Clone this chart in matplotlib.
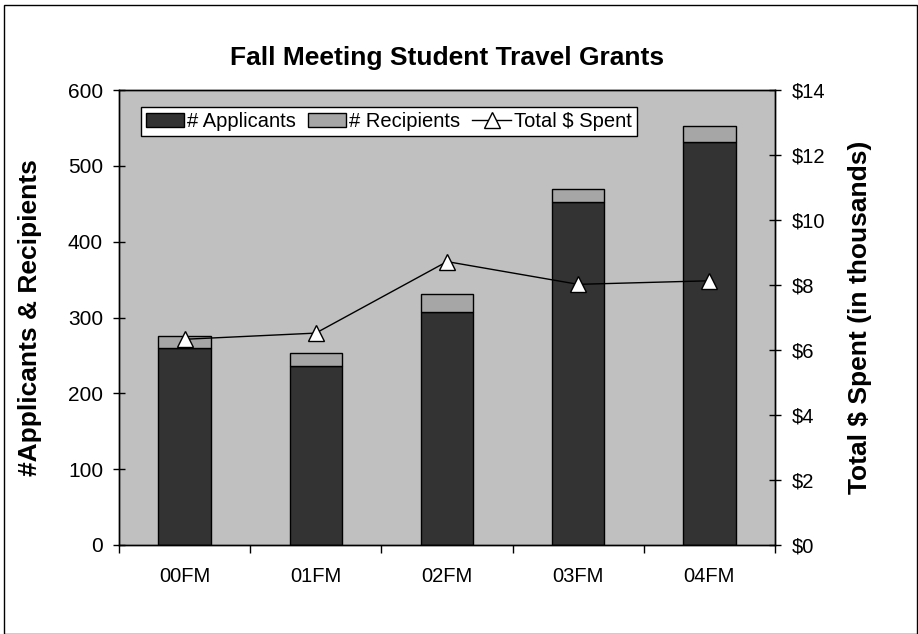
import matplotlib.pyplot as plt
from matplotlib.patches import Rectangle

plt.rcParams['font.family'] = ['Liberation Sans', 'DejaVu Sans']

# data
meetings = ['00FM', '01FM', '02FM', '03FM', '04FM']
applicants = [260, 236, 307, 452, 531]
recipients = [15, 17, 24, 18, 21]
spent = [6.33, 6.52, 8.72, 8.02, 8.13]  # thousands of $

fig = plt.figure(figsize=(9.18, 6.34), dpi=100)
ax = fig.add_axes([119/918, 89/634, 656/918, 455/634])
ax.set_facecolor('#c0c0c0')

x = range(len(meetings))
ax.bar(x, applicants, width=0.4, color='#333333', edgecolor='black', linewidth=1,
       label='# Applicants', zorder=2)
ax.bar(x, recipients, width=0.4, bottom=applicants, color='#a6a6a6', edgecolor='black',
       linewidth=1, label='# Recipients', zorder=2)

ax.set_xlim(-0.5, len(meetings) - 0.5)
ax.set_ylim(0, 600)
ax.set_yticks(range(0, 601, 100))
# ticks between categories, labels at the centres
ax.set_xticks([i - 0.5 for i in range(len(meetings) + 1)])
ax.set_xticklabels([])
ax.set_xticks(list(x), minor=True)
ax.set_xticklabels(meetings, minor=True)
ax.tick_params(axis='x', which='minor', length=0, pad=16, labelsize=14.5)
ax.tick_params(axis='x', which='major', direction='out', length=6, width=1)
ax.tick_params(axis='y', direction='inout', length=9, width=1, labelsize=15, pad=7)
ax.set_ylabel('#Applicants & Recipients', fontsize=19, fontweight='bold')
ax.yaxis.set_label_coords(-0.117, 0.5)

ax2 = ax.twinx()
ax2.plot(x, spent, color='black', linewidth=1, marker='^', markersize=11.5,
         markerfacecolor='white', markeredgecolor='black', label='Total $ Spent', zorder=3)
ax2.set_ylim(0, 14)
ax2.set_yticks(range(0, 15, 2))
ax2.set_yticklabels(['${}'.format(v) for v in range(0, 15, 2)])
ax2.tick_params(axis='y', direction='inout', length=9, width=1, labelsize=14.5, pad=7.5)
ax2.set_ylabel('Total $ Spent (in thousands)', fontsize=19, fontweight='bold')
ax2.yaxis.set_label_coords(1.112, 0.5)

for a in (ax, ax2):
    for s in a.spines.values():
        s.set_linewidth(1)

h1, l1 = ax.get_legend_handles_labels()
h2, l2 = ax2.get_legend_handles_labels()
leg = ax2.legend(h1 + h2, l1 + l2, ncol=3, loc='upper left', bbox_to_anchor=(0.033, 0.963),
                 fontsize=14.5, frameon=True, fancybox=False, edgecolor='black',
                 framealpha=1, borderpad=0.25, handlelength=1.9, handletextpad=0.15,
                 columnspacing=0.6, borderaxespad=0)
leg.get_frame().set_linewidth(1)

fig.text(447/918, 1 - 58/634, 'Fall Meeting Student Travel Grants', ha='center', va='center',
         fontsize=19, fontweight='bold')

# outer chart border
fig.patches.append(Rectangle((4/918, 0.5/634), 913/918, 629/634, transform=fig.transFigure,
                             fill=False, edgecolor='black', linewidth=1))

fig.savefig('out.png', dpi=100)
